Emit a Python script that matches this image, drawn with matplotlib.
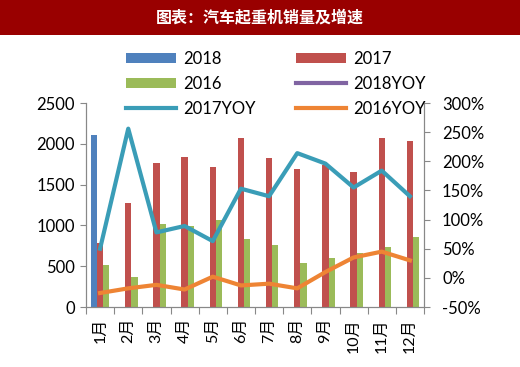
#!/usr/bin/env python3
"""汽车起重机销量及增速 — 月度柱状 + 同比折线"""
import numpy as np
import matplotlib
matplotlib.use('Agg')
import matplotlib.pyplot as plt
from matplotlib.patches import Rectangle

plt.rcParams['font.family'] = ['Lato', 'Noto Sans CJK SC', 'DejaVu Sans']

MONTHS = ['1月', '2月', '3月', '4月', '5月', '6月', '7月', '8月', '9月', '10月', '11月', '12月']
NAN = np.nan

SALES_2018 = [2110, NAN, NAN, NAN, NAN, NAN, NAN, NAN, NAN, NAN, NAN, NAN]
SALES_2017 = [780, 1270, 1770, 1835, 1712, 2070, 1825, 1690, 1735, 1655, 2072, 2035]
SALES_2016 = [515, 365, 1015, 993, 1063, 830, 760, 537, 598, 658, 738, 852]

YOY_2018 = [170, NAN, NAN, NAN, NAN, NAN, NAN, NAN, NAN, NAN, NAN, NAN]
YOY_2017 = [50, 256, 78, 89, 63, 153, 140, 214, 196, 155, 184, 140]
YOY_2016 = [-26, -18, -12, -20, 2, -13, -10, -18, 10, 35, 45, 30]

C_BLUE = '#4F81BD'
C_RED = '#C0504D'
C_GREEN = '#9BBB59'
C_PURPLE = '#8064A2'
C_TEAL = '#3A9DB7'
C_ORANGE = '#EE8434'
C_TITLE = '#990000'


def main():
    fig = plt.figure(figsize=(5.2, 3.67), dpi=100)

    # title band
    fig.patches.append(Rectangle((0, 1 - 35 / 367), 1, 35 / 367, transform=fig.transFigure,
                                 facecolor=C_TITLE, edgecolor='none', zorder=0))
    fig.text(0.5, 1 - 17 / 367, '图表：汽车起重机销量及增速', color='white', fontsize=11.5,
             fontweight='bold', ha='center', va='center', family=['Noto Sans CJK SC'])

    ax = fig.add_axes([86 / 520, 1 - 307 / 367, 338 / 520, 204 / 367])
    ax2 = ax.twinx()

    x = np.arange(len(MONTHS))
    w = 0.22
    ax.bar(x - w, SALES_2018, w, color=C_BLUE, label='2018', zorder=2)
    ax.bar(x, SALES_2017, w, color=C_RED, label='2017', zorder=2)
    ax.bar(x + w, SALES_2016, w, color=C_GREEN, label='2016', zorder=2)

    ax2.plot(x, YOY_2018, color=C_PURPLE, lw=3, label='2018YOY')
    ax2.plot(x, YOY_2017, color=C_TEAL, lw=3, label='2017YOY')
    ax2.plot(x, YOY_2016, color=C_ORANGE, lw=3, label='2016YOY')

    ax.set_xlim(-0.5, len(MONTHS) - 0.5)
    ax.set_ylim(0, 2500)
    ax.set_yticks(range(0, 2501, 500))
    ax2.set_ylim(-50, 300)
    ax2.set_yticks(range(-50, 301, 50))
    ax2.set_yticklabels([f'{v}%' for v in range(-50, 301, 50)])

    ax.set_xticks(np.arange(-0.5, len(MONTHS), 1.0))
    ax.set_xticklabels([])
    ax.set_xticks(x, minor=True)
    ax.set_xticklabels(MONTHS, minor=True, rotation=90, fontsize=11.5)
    ax.tick_params(axis='x', which='minor', length=0, pad=8)
    ax.tick_params(axis='x', which='major', length=5, color='#888888')

    for a in (ax, ax2):
        a.spines['top'].set_visible(False)
        for s in ('left', 'right', 'bottom'):
            a.spines[s].set_color('#888888')
        a.tick_params(axis='y', length=4, color='#888888', labelsize=12, pad=4)
    ax2.tick_params(axis='y', pad=9)

    h1, l1 = ax.get_legend_handles_labels()
    h2, l2 = ax2.get_legend_handles_labels()
    handles = [h1[0], h1[2], h2[1], h1[1], h2[0], h2[2]]
    labels = [l1[0], l1[2], l2[1], l1[1], l2[0], l2[2]]
    leg = ax2.legend(handles, labels, ncol=2, loc='upper left',
                     bbox_to_anchor=(0.075, 1.33), frameon=False, fontsize=12,
                     handlelength=3.0, handleheight=0.6, columnspacing=2.45,
                     labelspacing=0.55, handletextpad=0.4)
    leg.set_zorder(5)

    fig.savefig('out.png', dpi=100)
    plt.close(fig)


if __name__ == '__main__':
    main()
